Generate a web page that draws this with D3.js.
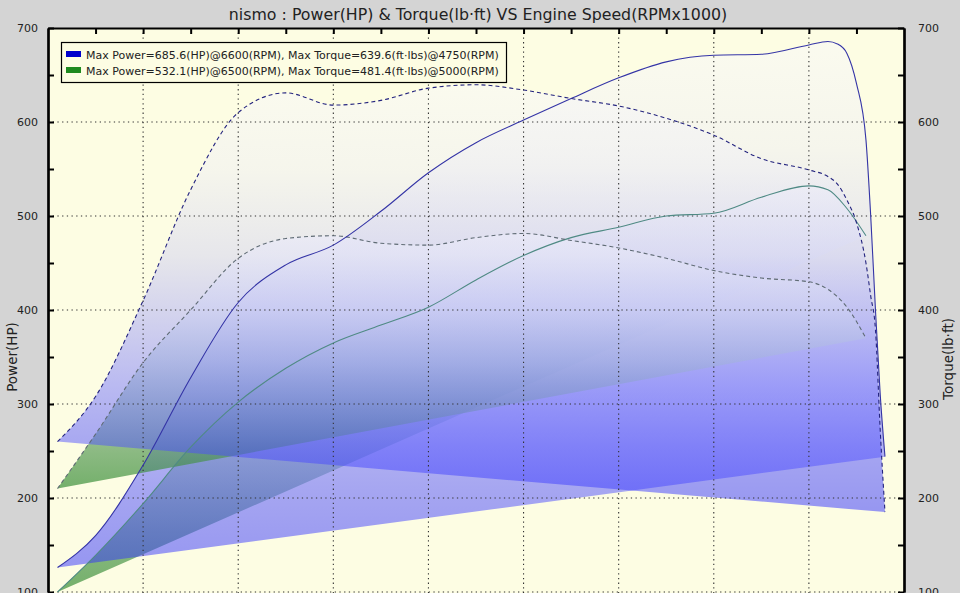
<!DOCTYPE html>
<html lang="en">
<head>
<meta charset="UTF-8">
<title>nismo power and torque</title>
<script src="https://d3js.org/d3.v7.min.js"></script>
<style>
  body { margin: 0; background: #d4d4d4; }
  svg { display: block; font-family: "DejaVu Sans", Verdana, sans-serif; }
</style>
</head>
<body>
<svg id="chart" width="960" height="593"></svg>
<script>

// data
var titleText = "nismo : Power(HP) & Torque(lb\u00b7ft) VS Engine Speed(RPMx1000)";
var legendLabels = [
    "Max Power=685.6(HP)@6600(RPM), Max Torque=639.6(ft\u00b7lbs)@4750(RPM)",
    "Max Power=532.1(HP)@6500(RPM), Max Torque=481.4(ft\u00b7lbs)@5000(RPM)"
];

var rpmBlue = [2550, 2750, 3000, 3250, 3500, 3750, 4000, 4250, 4500, 4750, 5000, 5250, 5500, 5750, 6000, 6250, 6500, 6600, 6650, 6700, 6750, 6800, 6825, 6850, 6875, 6900];
var powerBlue = [126, 160, 235, 328, 408, 448, 469, 505, 546, 578, 602, 625, 647, 664, 671, 672, 682, 685.6, 683, 673, 641, 581, 500, 400, 310, 244];
var torqueBlue = [260, 308, 410, 528, 610, 631, 618, 623, 636, 639.6, 634, 625, 617, 604, 586, 561, 549, 542, 534, 517, 493, 450, 415, 379, 272, 185];

var rpmGreen = [2550, 2750, 3000, 3250, 3500, 3750, 4000, 4250, 4500, 4750, 5000, 5250, 5500, 5750, 6000, 6250, 6500, 6600, 6700, 6800];
var powerGreen = [100, 139, 194, 254, 302, 338, 365, 384, 403, 432, 458, 477, 488, 500, 503, 520, 532.1, 528, 508, 479];
var torqueGreen = [210, 268, 344, 400, 455, 476, 479, 471, 469, 477, 481.4, 474, 466, 455, 442, 434, 430, 422, 403, 370];

var yTicks = [100, 200, 300, 400, 500, 600, 700];
var yMinor = [150, 250, 350, 450, 550, 650];
var xGrid = [3000, 3500, 4000, 4500, 5000, 5500, 6000, 6500];
var xTicks = [2750, 3000, 3250, 3500, 3750, 4000, 4250, 4500, 4750, 5000, 5250, 5500, 5750, 6000, 6250, 6500, 6750];

var pLeft = 48, pRight = 904, pTop = 28, pBottom = 592;

var svg = d3.select("#chart");
var x = d3.scaleLinear().domain([2500, 7000]).range([pLeft, pRight]);
var y = d3.scaleLinear().domain([100, 700]).range([pBottom, pTop]);

svg.append("rect").attr("width", 960).attr("height", 593).attr("fill", "#d4d4d4");
svg.append("rect").attr("x", pLeft).attr("y", pTop).attr("width", pRight - pLeft).attr("height", 700 - pTop)
    .attr("fill", "#fdfde3");

var defs = svg.append("defs");
defs.append("clipPath").attr("id", "plot")
    .append("rect").attr("x", pLeft).attr("y", pTop).attr("width", pRight - pLeft).attr("height", 700 - pTop);

// vertical wash over each shape's own box, pale on top, full colour at its bottom
function grad(id, stops) {
    var g = defs.append("linearGradient").attr("id", id)
        .attr("x1", 0).attr("y1", 0).attr("x2", 0).attr("y2", 1);
    g.selectAll("stop").data(stops).enter().append("stop")
        .attr("offset", function(d){ return d[0]; })
        .attr("stop-color", function(d){ return d[1]; });
}
grad("blueFill", [[0, "#f8f8fa"], [0.2, "#eeeef5"], [0.4, "#d0d0f3"], [0.55, "#a6a6f8"], [0.7, "#7878ff"], [0.85, "#5050ff"], [1, "#3030ff"]]);
grad("greenFill", [[0, "#ffffff"], [0.3, "#eef4ee"], [0.5, "#c0dcc0"], [0.7, "#80b480"], [0.85, "#509650"], [1, "#2a862a"]]);

var plot = svg.append("g").attr("clip-path", "url(#plot)");

function pts(r, v) { return r.map(function(d, i){ return [d, v[i]]; }); }
var line = d3.line().x(function(d){ return x(d[0]); }).y(function(d){ return y(d[1]); }).curve(d3.curveMonotoneX);

// closed shapes: curve then straight chord back to its first point
var shapes = [
    { p: pts(rpmGreen, powerGreen), fill: "url(#greenFill)", op: 0.65 },
    { p: pts(rpmBlue, powerBlue), fill: "url(#blueFill)", op: 0.5 },
    { p: pts(rpmGreen, torqueGreen), fill: "url(#greenFill)", op: 0.65 },
    { p: pts(rpmBlue, torqueBlue), fill: "url(#blueFill)", op: 0.5 }
];
plot.selectAll("path.area").data(shapes).enter().append("path")
    .attr("class", "area")
    .attr("d", function(d){ return line(d.p) + "Z"; })
    .attr("fill", function(d){ return d.fill; })
    .attr("fill-opacity", function(d){ return d.op; });

// dotted grid
plot.selectAll("line.gx").data(xGrid).enter().append("line")
    .attr("x1", function(d){ return x(d); }).attr("x2", function(d){ return x(d); })
    .attr("y1", pTop).attr("y2", 700)
    .attr("stroke", "#333").attr("stroke-width", 1.1).attr("stroke-dasharray", "1.3,3.4");
plot.selectAll("line.gy").data(yTicks).enter().append("line")
    .attr("x1", pLeft).attr("x2", pRight)
    .attr("y1", function(d){ return y(d); }).attr("y2", function(d){ return y(d); })
    .attr("stroke", "#333").attr("stroke-width", 1.1).attr("stroke-dasharray", "1.3,3.4");

var curves = [
    { p: pts(rpmGreen, powerGreen), c: "#4f8a84", dash: null },
    { p: pts(rpmGreen, torqueGreen), c: "#5f6b74", dash: "4,3" },
    { p: pts(rpmBlue, powerBlue), c: "#3434a6", dash: null },
    { p: pts(rpmBlue, torqueBlue), c: "#23237e", dash: "4,3" }
];
plot.selectAll("path.curve").data(curves).enter().append("path")
    .attr("class", "curve")
    .attr("d", function(d){ return line(d.p); })
    .attr("fill", "none")
    .attr("stroke", function(d){ return d.c; })
    .attr("stroke-width", 1.1)
    .attr("stroke-dasharray", function(d){ return d.dash; });

// axes
function styleAxis(g) {
    g.select(".domain").attr("stroke", "#000").attr("stroke-width", 2.2).attr("fill", "none");
    g.selectAll(".tick line").attr("stroke", "#000").attr("stroke-width", 2);
    g.selectAll("text").attr("font-size", 11).attr("fill", "#222")
        .attr("font-family", "'DejaVu Sans', Verdana, sans-serif");
}

svg.append("g").attr("transform", "translate(" + pLeft + ",0)")
    .call(d3.axisLeft(y).tickValues(yMinor).tickSizeInner(-6).tickSizeOuter(0).tickFormat(""))
    .call(styleAxis);
svg.append("g").attr("transform", "translate(" + pLeft + ",0)")
    .call(d3.axisLeft(y).tickValues(yTicks).tickSizeInner(-6).tickSizeOuter(0).tickPadding(10).tickFormat(d3.format("d")))
    .call(styleAxis);
svg.append("g").attr("transform", "translate(" + pRight + ",0)")
    .call(d3.axisRight(y).tickValues(yMinor).tickSizeInner(-6).tickSizeOuter(0).tickFormat(""))
    .call(styleAxis);
svg.append("g").attr("transform", "translate(" + pRight + ",0)")
    .call(d3.axisRight(y).tickValues(yTicks).tickSizeInner(-6).tickSizeOuter(0).tickPadding(14).tickFormat(d3.format("d")))
    .call(styleAxis);
svg.append("g").attr("transform", "translate(0," + pTop + ")")
    .call(d3.axisTop(x).tickValues(xTicks).tickSizeInner(-6).tickSizeOuter(0).tickFormat(""))
    .call(styleAxis);

// titles
svg.append("text").attr("x", 478).attr("y", 20).attr("text-anchor", "middle")
    .attr("font-size", 15.8).attr("fill", "#222").text(titleText);
svg.append("text").attr("transform", "translate(17,357) rotate(-90)").attr("text-anchor", "middle")
    .attr("font-size", 13.5).attr("fill", "#222").text("Power(HP)");
svg.append("text").attr("transform", "translate(953,359) rotate(-90)").attr("text-anchor", "middle")
    .attr("font-size", 13.5).attr("fill", "#222").text("Torque(lb\u00b7ft)");

// legend
var legend = svg.append("g");
legend.append("rect").attr("x", 61.5).attr("y", 42.5).attr("width", 445).attr("height", 40)
    .attr("fill", "#fdfde3").attr("stroke", "#000").attr("stroke-width", 1.2);
var swatch = ["#0000cc", "#1f8a1f"];
legend.selectAll("rect.sw").data(legendLabels).enter().append("rect")
    .attr("class", "sw")
    .attr("x", 66).attr("y", function(d, i){ return 51 + i * 16; })
    .attr("width", 15).attr("height", 6)
    .attr("fill", function(d, i){ return swatch[i]; });
legend.selectAll("text.lg").data(legendLabels).enter().append("text")
    .attr("class", "lg")
    .attr("x", 86).attr("y", function(d, i){ return 58.5 + i * 16; })
    .attr("font-size", 11).attr("fill", "#222")
    .text(function(d){ return d; });

</script>
</body>
</html>
